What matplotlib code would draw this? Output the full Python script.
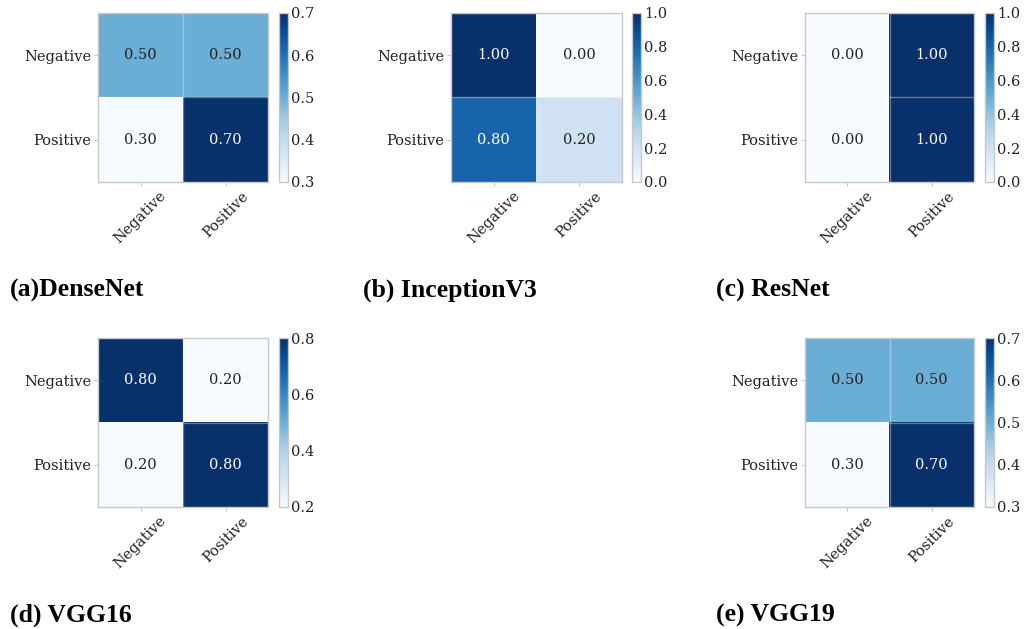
import numpy as np
import matplotlib
matplotlib.use('Agg')
import matplotlib.pyplot as plt

# ── Data ─────────────────────────────────────────────────────────────────────
classes = ["Negative", "Positive"]

cm_densenet = [[0.50, 0.50], [0.30, 0.70]]
cm_inception = [[1.00, 0.00], [0.80, 0.20]]
cm_resnet = [[0.00, 1.00], [0.00, 1.00]]
cm_vgg16 = [[0.80, 0.20], [0.20, 0.80]]
cm_vgg19 = [[0.50, 0.50], [0.30, 0.70]]

ticks_densenet = [0.3, 0.4, 0.5, 0.6, 0.7]
ticks_inception = [0.0, 0.2, 0.4, 0.6, 0.8, 1.0]
ticks_resnet = [0.0, 0.2, 0.4, 0.6, 0.8, 1.0]
ticks_vgg16 = [0.2, 0.4, 0.6, 0.8]
ticks_vgg19 = [0.3, 0.4, 0.5, 0.6, 0.7]

captions = ["(a)DenseNet", "(b) InceptionV3", "(c) ResNet", "(d) VGG16", "(e) VGG19"]

# ── Layout (pixels) ──────────────────────────────────────────────────────────
W, H = 1027, 629
plt.rcParams['font.family'] = 'DejaVu Serif'
plt.rcParams['font.size'] = 10.5

fig = plt.figure(figsize=(W / 100, H / 100), dpi=100)


def px_rect(x0, y0, x1, y1):
    return [x0 / W, 1 - y1 / H, (x1 - x0) / W, (y1 - y0) / H]


# (matrix, cbar ticks, axes box, cbar x-range, caption position)
panels = [
    (cm_densenet, ticks_densenet, (98, 13, 268, 182), (279, 288), (10, 297)),
    (cm_inception, ticks_inception, (451, 13, 622, 182), (632, 641), (363, 297)),
    (cm_resnet, ticks_resnet, (805, 13, 974, 182), (985, 994), (716, 297)),
    (cm_vgg16, ticks_vgg16, (98, 338, 268, 507), (279, 288), (10, 622)),
    (cm_vgg19, ticks_vgg19, (805, 338, 974, 507), (985, 994), (716, 622)),
]

text_dark = '#222222'
spine_col = '#c8c8c8'

for (cm, cticks, (x0, y0, x1, y1), (cx0, cx1), (tx, ty)), cap in zip(panels, captions):
    cm = np.array(cm)
    ax = fig.add_axes(px_rect(x0, y0, x1, y1))
    im = ax.imshow(cm, cmap='Blues', aspect='auto', interpolation='nearest')

    thresh = (cm.max() + cm.min()) / 2.0
    for i in range(cm.shape[0]):
        for j in range(cm.shape[1]):
            ax.text(j, i, f"{cm[i, j]:.2f}", ha='center', va='center',
                    color='white' if cm[i, j] > thresh else text_dark,
                    fontsize=10.5)

    # faint cell borders
    ax.axhline(0.5, color='white', lw=1, alpha=0.35)
    ax.axvline(0.5, color='white', lw=1, alpha=0.35)

    ax.set_xticks(range(len(classes)))
    ax.set_yticks(range(len(classes)))
    ax.set_xticklabels(classes, rotation=45, color=text_dark)
    ax.set_yticklabels(classes, color=text_dark)
    ax.tick_params(length=3, width=0.8, color=spine_col, pad=2)
    for s in ax.spines.values():
        s.set_color(spine_col)
        s.set_linewidth(1)

    cax = fig.add_axes(px_rect(cx0, y0, cx1, y1))
    cbar = fig.colorbar(im, cax=cax, ticks=cticks)
    cbar.ax.set_yticklabels([f"{t:.1f}" for t in cticks], color=text_dark)
    cbar.ax.tick_params(length=0, pad=2)
    cbar.outline.set_edgecolor(spine_col)
    cbar.outline.set_linewidth(1)

    fig.text(tx / W, 1 - ty / H, cap, fontsize=18.5, fontweight='bold',
             family='Liberation Serif', ha='left', va='baseline', color='black')

plt.savefig('out.png', dpi=100)
plt.close()
